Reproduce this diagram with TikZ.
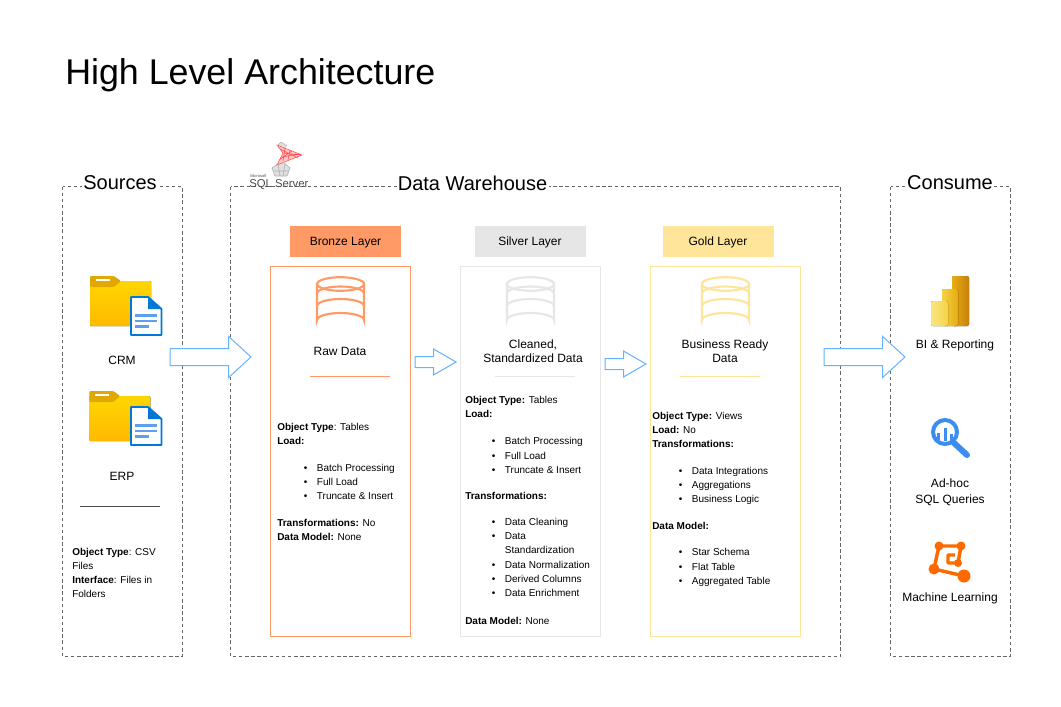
\documentclass[tikz,border=0pt]{standalone}
\usepackage{fontspec}
\setmainfont{Liberation Sans}
\usetikzlibrary{shapes.arrows,shapes.geometric,calc}
\definecolor{bronze}{HTML}{FF9966}
\definecolor{silver}{HTML}{E6E6E6}
\definecolor{goldc}{HTML}{FFE599}
\definecolor{arrowb}{HTML}{66B2FF}
\definecolor{docb}{HTML}{0078D4}
\definecolor{docl}{HTML}{5EA0EF}
\definecolor{mlo}{HTML}{FF6A00}
\definecolor{magb}{HTML}{3B8DF0}
\definecolor{foldt}{HTML}{FFD600}
\definecolor{foldb}{HTML}{FFB900}
\definecolor{foldtab}{HTML}{E0A800}
\definecolor{pbia}{HTML}{E8B010}
\definecolor{pbib}{HTML}{C87E0E}
\definecolor{pbic}{HTML}{F6D246}
\definecolor{pbid}{HTML}{E6AC10}
\definecolor{pbie}{HTML}{F9E583}
\definecolor{pbif}{HTML}{F5D446}
\tikzset{
  x=0.75pt,y=-0.75pt,
  zone/.style={draw=black!60,dash pattern=on 2.6pt off 2pt,line width=0.45pt},
  zonetitle/.style={font=\fontsize{15}{18}\selectfont,text=black,inner sep=0pt,anchor=center},
  layerhead/.style={draw=none,inner sep=0pt,font=\fontsize{9}{11}\selectfont,text height=8pt,text depth=2.3pt},
  layerbox/.style={line width=0.75pt,fill=none},
  lbl/.style={font=\fontsize{9}{10.8}\selectfont,align=center,inner sep=0pt,text=black},
  body/.style={font=\fontsize{7.5}{10.7}\selectfont,align=left,anchor=west,inner sep=0pt,text=black},
  sep/.style={line width=0.5pt},
  bigarrow/.style={single arrow,draw=arrowb,fill=white,line width=0.75pt,inner sep=0pt,outer sep=0pt,anchor=tip,minimum height=60.75pt,single arrow head extend=9pt,single arrow tip angle=85},
  smallarrow/.style={single arrow,draw=arrowb,fill=white,line width=0.75pt,inner sep=0pt,outer sep=0pt,anchor=tip,minimum height=30.75pt,single arrow head extend=5.6pt,single arrow tip angle=60},
  cyl/.style={line width=1.6pt,line cap=round},
}
\newcommand{\blt}[1]{\hspace*{20pt}\makebox[9.75pt][l]{\textbullet}#1}
\newcommand{\dbicon}[2]{%
  \begin{scope}[shift={(#1,0)}]
    \draw[cyl,draw=#2] (-23.5,284) arc[start angle=180,end angle=-180,x radius=23.5,y radius=6.8];
    \draw[cyl,draw=#2] (-23.5,284) -- (-23.5,320) arc[start angle=180,end angle=360,x radius=23.5,y radius=7] -- (23.5,284);
    \draw[cyl,draw=#2] (-23.5,293.5) arc[start angle=180,end angle=360,x radius=23.5,y radius=7];
    \draw[cyl,draw=#2] (-23.5,306) arc[start angle=180,end angle=360,x radius=23.5,y radius=7];
  \end{scope}}
\newcommand{\foldericon}[2]{%
  \begin{scope}[shift={(#1,#2)}]
    \fill[top color=foldt,bottom color=foldb,rounded corners=0.8pt] (90,281) rectangle (151,326);
    \fill[foldtab,rounded corners=0.8pt] (90,287) -- (90,276) -- (114,276) -- (121,281) -- (114,287) -- cycle;
    \fill[white] (96,278.5) rectangle (110,281);
  \end{scope}}
\newcommand{\docicon}[2]{%
  \begin{scope}[shift={(#1,#2)}]
    \fill[white,draw=docb,line width=1.4pt,line join=round] (131,297) -- (148,297) -- (161.5,309) -- (161.5,335) -- (131,335) -- cycle;
    \fill[docb] (148,297) -- (161.5,309) -- (148,309) -- cycle;
    \draw[docl,line width=2.2pt] (135,315.5) -- (157,315.5) (135,321) -- (157,321) (135,326.5) -- (149,326.5);
  \end{scope}}
\begin{document}
\begin{tikzpicture}
\useasboundingbox (0,0) rectangle (1061,707);
\fill[white] (0,0) rectangle (1061,707);

\node[anchor=west,inner sep=0pt,font=\fontsize{26.85}{32}\selectfont] (title) at (65,75) {High Level Architecture};

% zones
\draw[zone] (62.5,186.5) rectangle (182.5,656.5);
\draw[zone] (230.5,186.5) rectangle (840.5,656.5);
\draw[zone] (890.5,186.5) rectangle (1010.5,656.5);
\node[zonetitle,fill=white,inner xsep=1pt] (tsrc) at (120,183) {Sources};
\node[zonetitle,fill=white,inner xsep=1pt] (tdw) at (472.5,183) {Data Warehouse};
\node[zonetitle,fill=white,inner xsep=1pt] (tcon) at (950,183) {Consume};

% SQL Server logo
\fill[black!12] (277,146) -- (281,142) -- (287,146) -- (283,151) -- cycle
  (279,163) -- (272,168) -- (275,176) -- (287,176) -- (290,168) -- (283,162) -- cycle;
\fill[red!22] (277,145) -- (302,155) -- (277,165) -- (283,153) -- cycle;
\draw[red!70!white,line width=0.4pt] (277,145) -- (302,155) -- (277,165) -- (283,153) -- cycle
  (283,153) -- (302,155) (280,149) -- (298,158) (279,160) -- (292,151) (285,148) -- (283,161) (290,150) -- (288,160) (282,157) -- (300,154);
\draw[black!30,line width=0.45pt] (277,146) -- (281,142) -- (287,146) (279,163) -- (272,168) -- (275,176) -- (287,176) -- (290,168) -- (283,162) (274,171) -- (288,171) (278,164)--(280,176) (285,164)--(283,176);
\node[anchor=west,inner sep=0pt,text=black!70,font=\fontsize{3}{3.5}\selectfont] (msft) at (250,176.5) {Microsoft};
\node[anchor=west,inner sep=0pt,text=black!70,font=\fontsize{8.5}{10}\selectfont] (sqls) at (249,185) {SQL Server};

% Layer headings
\node[layerhead,fill=bronze,minimum width=83.25pt,minimum height=23.25pt] (hb) at (345.5,241.5) {Bronze Layer};
\node[layerhead,fill=silver,minimum width=83.25pt,minimum height=23.25pt] (hs) at (530,241.5) {Silver Layer};
\node[layerhead,fill=goldc,minimum width=83.25pt,minimum height=23.25pt] (hg) at (718,241.5) {Gold Layer};

% Layer boxes
\draw[layerbox,draw=bronze] (270.5,266.5) rectangle (410.5,636.5);
\draw[layerbox,draw=silver] (460.5,266.5) rectangle (600.5,636.5);
\draw[layerbox,draw=goldc] (650.5,266.5) rectangle (800.5,636.5);

\dbicon{340.5}{bronze}
\dbicon{530.5}{silver}
\dbicon{725.5}{goldc}

\node[lbl] (raw) at (340,351) {Raw Data};
\node[lbl] (cln) at (533,351.5) {Cleaned,\\Standardized Data};
\node[lbl] (biz) at (725,351) {Business Ready\\Data};
\draw[sep,draw=bronze] (310,376.5) -- (390,376.5);
\draw[sep,draw=silver] (495,376.5) -- (575,376.5);
\draw[sep,draw=goldc] (680,376.5) -- (760,376.5);

% Bronze text
\node[body] (b1) at (277,434) {\textbf{Object Type}: Tables\\\textbf{Load:}};
\node[body] (b2) at (277,482) {\blt{Batch Processing}\\\blt{Full Load}\\\blt{Truncate \& Insert}};
\node[body] (b3) at (277,530) {\textbf{Transformations:} No\\\textbf{Data Model:} None};
% Silver text
\node[body] (s1) at (465,407) {\textbf{Object Type:} Tables\\\textbf{Load:}};
\node[body] (s2) at (465,455.5) {\blt{Batch Processing}\\\blt{Full Load}\\\blt{Truncate \& Insert}};
\node[body] (s3) at (465,496) {\textbf{Transformations:}};
\node[body] (s4) at (465,557.5) {\blt{Data Cleaning}\\\blt{Data}\\\hspace*{29.75pt}Standardization\\\blt{Data Normalization}\\\blt{Derived Columns}\\\blt{Data Enrichment}};
\node[body] (s5) at (465,620.5) {\textbf{Data Model:} None};
% Gold text
\node[body] (g1) at (652,430) {\textbf{Object Type:} Views\\\textbf{Load:} No\\\textbf{Transformations:}};
\node[body] (g2) at (652,486) {\blt{Data Integrations}\\\blt{Aggregations}\\\blt{Business Logic}};
\node[body] (g3) at (652,526) {\textbf{Data Model:}};
\node[body] (g4) at (652,567.5) {\blt{Star Schema}\\\blt{Flat Table}\\\blt{Aggregated Table}};

% Sources
\foldericon{0}{0}
\docicon{0}{0}
\foldericon{-0.7}{115}
\docicon{0}{110}
\node[lbl] (crm) at (122,360.5) {CRM};
\node[lbl] (erp) at (122,476) {ERP};
\draw[sep,draw=black!70] (80,506.5) -- (160,506.5);
\node[body] (src) at (72,573) {\textbf{Object Type}: CSV\\Files\\\textbf{Interface}: Files in\\Folders};

% Consume icons
\fill[left color=pbia,right color=pbib,rounded corners=1.5pt] (952,276) rectangle (969,326);
\fill[left color=pbic,right color=pbid,rounded corners=1.5pt] (942,289) rectangle (958,326);
\fill[left color=pbie,right color=pbif,rounded corners=1.5pt] (931,301) rectangle (948,326);
\node[lbl] (bi) at (955,345.5) {BI \& Reporting};

\draw[magb,line width=3pt] (945,432) circle[radius=12];
\draw[magb,line width=4.5pt,line cap=round] (954,443) -- (967,455);
\draw[magb,line width=2.25pt] (938.5,433) -- (938.5,440) (945,428) -- (945,441) (951.5,434) -- (951.5,440);
\node[lbl] (adhoc) at (950,492) {Ad-hoc\\[1pt]SQL Queries};

\draw[mlo,line width=2.6pt,line join=round] (939,546) -- (961,546) -- (958,563) -- (948,563) -- (948,555) -- (955,555)
  (939,546) -- (934,569) -- (964,576);
\fill[mlo] (939,546) circle[radius=4.5] (961,546) circle[radius=4.5] (934,569) circle[radius=5.5] (964,576) circle[radius=6.5] (958,563) circle[radius=4];
\node[lbl] (ml) at (950,598) {Machine Learning};

% Block arrows
\node[bigarrow] (a1) at (251,357) {\rule{0pt}{12pt}};
\node[smallarrow] (a2) at (456,362) {\rule{0pt}{7.5pt}};
\node[smallarrow] (a3) at (646,364) {\rule{0pt}{7.5pt}};
\node[bigarrow] (a4) at (905,357) {\rule{0pt}{12pt}};
\end{tikzpicture}
\end{document}
